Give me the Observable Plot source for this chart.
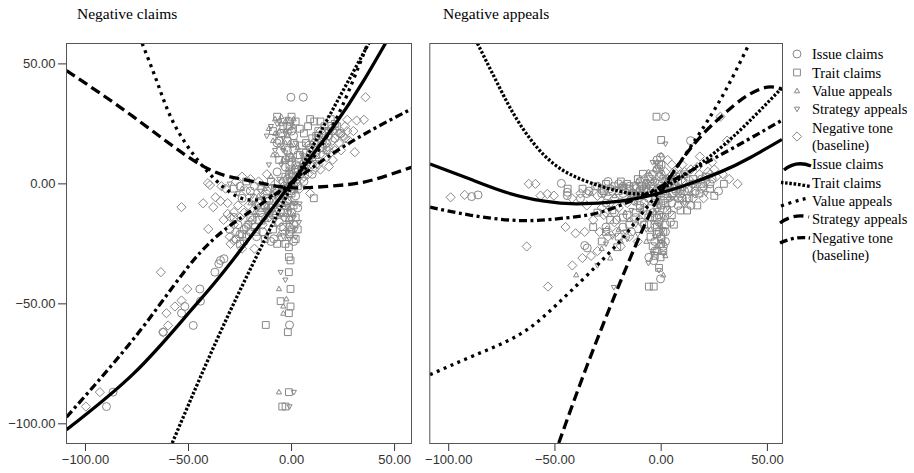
<!DOCTYPE html>
<html><head><meta charset="utf-8">
<script src="https://cdn.jsdelivr.net/npm/d3@7"></script>
<script src="https://cdn.jsdelivr.net/npm/@observablehq/plot@0.6"></script>
<style>
body{margin:0;background:#fff;}
#wrap{position:relative;width:914px;height:473px;overflow:hidden;background:#fff;}
#wrap svg{position:absolute;top:0;}
</style></head><body><div id="wrap"></div>
<script>
// ---------- Data ----------
const panelTitles = ["Negative claims", "Negative appeals"];
const axisTicks = [-100, -50, 0, 50];
const seriesNames = ["Issue claims", "Trait claims", "Value appeals", "Strategy appeals", "Negative tone (baseline)"];

// Left panel: scatter points [x, y]
const leftIssuePts = [[5.7,36.1],[-0.3,36.1],[-34.5,-31.9],[-32.8,-31.2],[-35.3,-33.3],[-37.2,-36.8],[-44.5,-43.8],[-51.8,-51.1],[-44.2,-48.9],[-53.4,-53.9],[-47.7,-59],[-62.3,-61.8],[-86.6,-86.8],[-89.8,-92.8],[-8.6,-22.9],[-4.5,-22.2],[-1,-58.8],
 [-20,-20],[-17,-22],[-22,-18],[-25,-21],[-14,-14],[-10,-10],[-6,-5],[-3,-2],[2,3],[5,6],[8,10],[12,14],[15,18],[20,22],[-2,18],[0,22],[-12,-3],[-18,-1],[-24,-6],[-28,-14],[-26,-17],[-14,-20],[-10,-24],[-6,-16],[3,-10],[6,1],[10,4],[18,20],[24,21],[-3,10],[-7,5],[-16,-8],[-4,-12],[-1,-18],[1,14],[-30,-19],[-23,-24],[9,15],[13,20],
 [-1,26],[1,20],[-2,14],[0,9],[-1,4],[1,-2],[-2,-7],[0,-12],[-1,-20],[1,-24],[-3,-14],[2,-5],[-4,1],[-8,-4],[-11,-7],[-15,-12],[-19,-15],[-23,-19],[-27,-23],[4,4],[7,8],[10,11],[14,15],[17,17],[21,19],[-5,21],[-7,17],[-3,7],[-20,-3],[-25,-1],
 [-2,2],[0,-3],[2,8],[-3,-9],[1,-17],[3,12],[-5,-12],[-9,-13],[11,17],[16,22]];
const leftTraitPts = [[10.8,-6],[-1.3,-26.4],[-1.3,-30.5],[-0.5,-31.9],[-0.5,-43.8],[-5.3,-48.9],[-0.5,-51.1],[-1.3,-53.9],[-12.5,-58.8],[-1.8,-61.8],[-1.3,-86.8],[-4.5,-92.8],[-2.9,-92.8],[-1.3,-36.8],[-7,-25],[-3,-25],
 [6,21],[8,24],[11,26],[14,26],[10,19],[7,17],[4,12],[13,22],[16,24],[19,27],[-1,24],[2,26],[-1,8],[-3,3],[-8,-2],[-12,-6],[-15,-10],[-20,-14],[-18,-18],[-22,-22],[-13,-23],[-9,-19],[-5,-8],[0,-4],[2,-14],[3,-19],[-2,-12],[-25,-25],[5,16],[22,24],[17,14],[-10,1],[-6,10],
 [0,28],[-2,24],[1,17],[-1,11],[2,6],[0,1],[-2,-3],[1,-9],[-1,-15],[0,-19],[2,-23],[-4,-18],[-6,-6],[-9,-9],[-13,-9],[-16,-15],[-21,-17],[-24,-21],[3,5],[6,7],[9,12],[12,12],[15,15],[18,22],[21,25],[-4,24],[-6,18],[-9,22],[-28,-2],[-22,1],
 [4,23],[9,27],[12,20],[7,13],[3,-1],[-1,-21],[-4,-4],[-11,-12],[-17,-20],[-7,28]];
const leftValuePts = [[-6.1,-43.8],[-4,-51],[-2.5,-48],[-6.1,-86.8],[-4,-54],
 [-8,27],[-5,28],[-3,26],[-6,22],[-9,18],[-4,15],[-7,12],[-2,6],[-10,3],[-14,0],[-5,-3],[-3,-8],[-1,-10],[-8,-12],[-12,-15],[2,0],[4,5],[0,12],[-2,20],[1,27],[-16,-5],[-20,-8],[-11,-20],[-6,-21],
 [-1,22],[1,24],[-3,17],[0,16],[-2,11],[1,7],[-1,0],[2,-3],[-3,-5],[0,-8],[-2,-15],[1,-13],[-7,-8],[-10,-13],[-14,-16],[-18,-12],[5,9],[8,13],[-6,16],[-11,23],[-9,12],[-3,22],[-13,-2],[-24,-2],
 [-5,25],[-8,21],[-1,17],[0,5],[-2,-1],[-6,-13],[-9,-17],[3,15],[-4,10],[-12,-9]];
const leftStrategyPts = [[1.1,-86.8],[-1,-92.8],[3.6,-16],[1.9,-22.2],[3.9,-8.3],[-5.3,-36.8],[-3,-40],
 [-10,24],[-12,20],[-7,25],[-4,19],[-8,14],[-5,8],[-11,8],[-3,0],[-1,-6],[1,-8],[-6,-10],[-9,-6],[-13,-11],[-17,-13],[0,2],[3,8],[6,10],[2,17],[-15,-3],[-19,-5],[-2,-20],[0,-16],
 [-2,27],[0,25],[-3,21],[1,10],[-1,5],[0,-1],[-2,-10],[1,-14],[-1,-23],[2,-19],[-5,-13],[-8,-15],[-12,-11],[-16,-10],[-21,-12],[4,2],[7,5],[11,9],[-6,2],[-9,-1],[-4,14],[-7,20],[-26,-4],[-30,0],
 [-6,26],[-3,13],[-1,-12],[2,-8],[-4,-22],[-10,-5],[5,12],[-14,-6],[-18,-8],[-2,3]];
const leftTonePts = [[35.9,36.1],[35.1,26.7],[31.6,26.4],[27,26.7],[30.7,13.2],[18.1,7.2],[-53.4,-9.7],[-42.9,-8.1],[-38,-9.7],[-40.6,0.3],[-39.6,-0.5],[-36.9,-5.6],[-34.5,-7.2],[-40.4,-18.8],[-31,-12.5],[-29.6,-13.9],[-28,-11.8],[-29.6,-25],[-28,-23.6],[-63.4,-36.8],[-50.6,-43.8],[-53.4,-48.6],[-56.6,-51.1],[-60.7,-53.9],[-59.9,-59],[-62.3,-61.8],[-93,-86.8],[-99.8,-92.8],
 [22,22],[25,20],[20,18],[18,15],[15,12],[12,10],[24,14],[28,18],[16,20],[10,8],[8,4],[5,2],[20,10],[14,6],[26,24],[30,22],[-16,1],[-20,2],[-24,3],[-27,1],[-32,-2],[-22,-3],[-18,-6],[-26,-9],[-23,-12],[-33,-15],[-20,-16],[-30,-22],[-27,-20],[-12,4],[-8,0],[4,-2],[9,-4],[-14,-17],[-24,-27],[-18,-27],
 [-4,-1],[-7,-3],[-10,-2],[-13,-5],[-17,-9],[-21,-9],[-25,-14],[-28,-17],[-31,-8],[-34,-1],[2,1],[6,3],[11,6],[13,8],[17,11],[21,14],[23,17],[26,19],[19,23],[14,22],[10,15],[-2,-8],[-5,-18],[-11,-14],
 [8,16],[12,18],[16,16],[19,13],[23,21],[27,22],[6,9],[3,6],[-6,-9],[-15,-2]];

// Left panel: fitted curves [x, y]
const leftIssueCurve = [[-109.2,-102.5],[-76.8,-79.2],[-51,-54.9],[-36.4,-40.3],[-18,-20],[0,0.5],[20.5,24],[35,43],[45.6,58.6]];
const leftTraitCurve = [[-57.9,-108],[-36.4,-65.3],[-18,-32],[0,-1],[20,31],[37.5,58.6]];
const leftValueCurve = [[-72.5,58.6],[-65,41.9],[-57,25],[-44,8.3],[-30,-3.4],[-18,-6.7],[-5,-3.1],[5,4.6],[15,16.7],[25,33.2],[37,58.6]];
const leftStrategyCurve = [[-109.2,47.2],[-76.5,27.8],[-44.2,8],[-23.3,1.8],[-5.3,-1.2],[9.2,-1.5],[27,-0.3],[40,1.8],[58.1,6.9]];
const leftToneCurve = [[-109.2,-97.2],[-72.8,-60.4],[-44.2,-28.5],[-20,-11.5],[0,0.5],[20.6,13],[40,23],[58.1,31.2]];

// Right panel: scatter points [x, y]
const rightIssuePts = [[2,28],[13.8,18],[-0.3,11.1],[-89.2,-5.3],[-86.2,-4.6],[-47,0.2],[-44.2,-3.5],[-44.2,-4.9],[-36,-25.7],[-34.8,-26.7],[-5.8,-30.6],[-3.5,-32],[-0.3,-39.6],[4.4,-16],[5,-1],
 [-30,-1],[-25,1],[-20,0],[-15,-1],[-10,1],[-6,3],[-2,6],[0,8],[3,2],[6,-2],[9,-4],[12,-6],[16,-3],[20,-1],[-8,-8],[-4,-12],[-1,-16],[2,-20],[-3,-24],[-12,-14],[-18,-18],[-22,-12],[-26,-8],[5,-8],[-2,-28],[1,-26],[8,-9],[14,-9],[-34,-3],[-38,-6],[-14,-4],[-5,-1],[-1,3],[10,1],[24,2],
 [-2,10],[0,4],[-1,-2],[1,-7],[-2,-10],[0,-14],[-1,-20],[2,-24],[-3,-28],[-28,-4],[-23,-3],[-18,-4],[-12,-2],[-7,0],[-3,1],[3,0],[7,-3],[11,-3],[15,0],[19,2],[23,0],[-26,-18],[-21,-15],[-16,-13],[-10,-9],[-6,-6],[-14,-20],[-9,-16],[-35,-4],[27,-3],
 [-4,4],[-8,-2],[-13,-1],[-18,-1],[-24,-2],[2,-4],[6,0],[10,-6],[-3,-17],[0,-23]];
const rightTraitPts = [[-2.2,28],[0,18.3],[29.5,0],[-20.7,-26.4],[-0.3,-30.6],[-5.8,-42.8],[-3.5,-42.8],[12.2,-11.1],[9.1,-11.1],[2.8,-11],[-8.6,4.2],[-44,-2],
 [-28,-2],[-22,-1],[-16,0],[-11,2],[-7,-2],[-3,-5],[1,-3],[4,0],[7,3],[11,4],[15,2],[19,0],[23,-2],[-10,-10],[-6,-14],[-2,-18],[0,-22],[-4,-26],[-15,-17],[-20,-22],[-24,-15],[-30,-12],[-26,-20],[2,-8],[5,-13],[17,-9],[-1,-35],[1,-28],[-32,-18],
 [-1,8],[1,2],[-2,-4],[0,-9],[-1,-13],[2,-17],[-2,-21],[0,-25],[-3,-30],[-31,-1],[-26,0],[-20,-3],[-13,-4],[-9,-1],[-4,-2],[2,1],[5,-4],[9,-2],[13,-6],[18,-4],[21,3],[25,-5],[-23,-11],[-18,-14],[-12,-12],[-8,-17],[-5,-22],[-28,-24],[6,-17],[-37,-2],
 [-5,2],[-10,-3],[-15,-2],[-19,1],[-27,-3],[3,-6],[8,1],[13,-2],[-2,-14],[1,-20]];
const rightValuePts = [[-6,5],[-2,9],[0,12],[-4,-3],[-8,-5],[-1,-9],[2,-14],[-5,-19],[-12,-8],[-17,-12],[-22,-5],[3,3],[8,-1],[-13,-3],[-28,-27],[-19,-24],[-40,-38],[1,-38],[-24,-31],
 [-3,6],[1,-1],[-1,-6],[0,-18],[-2,-26],[-10,-4],[-16,-3],[-25,-4],[4,-5],[10,-2],[14,-4],[-9,-11],[-15,-15],[-20,-19],[-7,-24],[2,-30],[-33,-4],[17,1],
 [-6,-1],[-11,1],[-19,-1],[4,-1],[7,-6],[-3,-12],[0,-24],[-5,-8]];
const rightStrategyPts = [[2,16.7],[-16,-22.9],[-22.3,-43.1],[-1,-36],[-3,1],[-9,-3],[-1,-6],[3,-10],[-6,-12],[1,-19],[-3,-22],[-14,-11],[-19,-7],[6,4],[10,-5],[-11,-21],[-26,-25],[-30,-34],[0,5],[-4,9],
 [-1,7],[2,-2],[-2,-8],[0,-13],[-1,-17],[1,-25],[-4,-29],[-8,-2],[-15,-5],[-21,-2],[-27,-5],[5,-6],[11,-8],[15,-1],[-7,-19],[-12,-17],[-17,-20],[-23,-22],[-6,-33],[21,-4],
 [-7,1],[-12,-4],[-17,-1],[3,1],[8,-3],[-2,-11],[1,-29],[-4,-16]];
const rightTonePts = [[27.9,28],[31,18],[36,0],[18.2,11.4],[-99.1,-5.6],[-92.5,-4.6],[-62.3,0],[-59.2,0],[-56.8,-4.9],[-53.6,-4.2],[-50.5,-4.9],[-63.3,-26.1],[-40.3,-20.6],[-37.1,-30.9],[-41.8,-34],[-53.3,-42.8],[-25.4,-19.4],
 [-30,-5],[-35,-9],[-27,-13],[-22,-16],[-18,-2],[-12,-1],[-8,2],[6,5],[10,8],[14,6],[18,4],[22,5],[26,3],[12,0],[16,-4],[20,-6],[8,-6],[-14,-6],[-32,-15],[-36,-20],[-30,-28],[-33,-30],[-10,-15],[3,10],[24,9],[-45,-18],
 [-4,0],[-9,-5],[-16,-8],[-20,-10],[-24,-8],[-28,-10],[-38,-4],[-42,-6],[2,5],[5,8],[9,4],[13,2],[17,7],[21,1],[25,6],[29,4],[32,2],[11,-8],[15,-6],[-19,-26],[-25,-22],[-29,-20],[-15,-22],[-11,-24],[4,-12],
 [-7,-3],[-13,-7],[-22,-6],[-26,-12],[7,2],[11,5],[19,-2],[23,4],[-21,-20],[-8,-10]];

// Right panel: fitted curves
const rightIssueCurve = [[-108.8,8.3],[-90,2],[-72,-3.8],[-55,-7.2],[-40,-8.3],[-20,-7.3],[-3.5,-4.5],[10,-1],[28,5],[42,11],[56.8,18.5]];
const rightTraitCurve = [[-86.5,58.6],[-76,40],[-66.2,24.5],[-50.5,8.3],[-30.1,-0.5],[-11.3,-4.2],[0,-2],[10,3],[27.9,15],[43.6,28],[56.8,40]];
const rightValueCurve = [[-108.8,-79.5],[-88,-71.5],[-66.2,-62.5],[-50,-51],[-34.8,-38],[-20,-24.5],[-11.3,-14.8],[0,-2],[16.9,19.5],[30,38.5],[41.5,58.5]];
const rightStrategyCurve = [[-48.2,-108],[-35,-76],[-20.7,-44],[-10,-21.5],[0,-3.5],[14,15],[27.9,27.8],[40,36.5],[50,40.3],[56.8,39.5]];
const rightToneCurve = [[-108.8,-9.7],[-90,-13],[-66,-15.3],[-45,-14.2],[-28.6,-11.8],[-11.3,-6],[0,-1],[20,8.3],[40,18],[56.8,26.5]];

// ---------- Styles ----------
const GRAY = "#888888";
function sym(fn){ return {draw(ctx, size){ const s = Math.sqrt(size / Math.PI); fn(ctx, s); }}; }
const symbols = [
  sym((c,s)=>{ c.moveTo(s,0); c.arc(0,0,s,0,2*Math.PI); }),
  sym((c,s)=>{ const h=s*0.85; c.moveTo(-h,-h); c.lineTo(h,-h); c.lineTo(h,h); c.lineTo(-h,h); c.closePath(); }),
  sym((c,s)=>{ c.moveTo(0,-s*0.7); c.lineTo(s*0.65,s*0.45); c.lineTo(-s*0.65,s*0.45); c.closePath(); }),
  sym((c,s)=>{ c.moveTo(0,s*0.7); c.lineTo(s*0.65,-s*0.45); c.lineTo(-s*0.65,-s*0.45); c.closePath(); }),
  sym((c,s)=>{ const h=s*1.15; c.moveTo(0,-h); c.lineTo(h,0); c.lineTo(0,h); c.lineTo(-h,0); c.closePath(); })
];
const dashes = ["none", "2.6,1.8", "3,4.5", "10,5", "8,3.5,3,3.5"];
const LW = 3.3;
const fmt = d3.format(".2f");

function panel(pts, curves, opt){
  const marks = [];
  pts.forEach((p,i)=> marks.push(Plot.dot(p, {x:d=>d[0], y:d=>d[1], symbol: symbols[i], r:4, stroke:GRAY, strokeWidth:1, fill:"none", clip:true})));
  curves.forEach((c,i)=> marks.push(Plot.line(c, {x:d=>d[0], y:d=>d[1], curve:"natural", stroke:"#000", strokeWidth:LW, strokeDasharray:dashes[i], strokeLinecap:"butt", strokeLinejoin:"miter", clip:true})));
  marks.push(Plot.frame({stroke:"#555", strokeWidth:1}));
  return Plot.plot({
    width: opt.width, height: 473,
    marginLeft: opt.ml, marginRight: opt.mr, marginTop: 43, marginBottom: 30,
    x: {domain: opt.xd, ticks: axisTicks, tickFormat: fmt, tickSize: 8, tickPadding: 3, label: null},
    y: opt.yaxis ? {domain: [-108.2, 58.5], ticks: axisTicks, tickFormat: fmt, tickSize: 8, tickPadding: 3, label: null}
                 : {domain: [-108.2, 58.5], axis: null},
    style: {fontFamily: "'Liberation Sans', Arial, sans-serif", fontSize: "13px", color: "#333", background: "transparent", overflow: "visible"},
    marks
  });
}

const wrap = document.getElementById("wrap");
const left = panel([leftIssuePts,leftTraitPts,leftValuePts,leftStrategyPts,leftTonePts],
  [leftIssueCurve,leftTraitCurve,leftValueCurve,leftStrategyCurve,leftToneCurve],
  {width:420, ml:66, mr:9, xd:[-109.2,58.2], yaxis:true});
left.style.left = "0px";
wrap.appendChild(left);
const right = panel([rightIssuePts,rightTraitPts,rightValuePts,rightStrategyPts,rightTonePts],
  [rightIssueCurve,rightTraitCurve,rightValueCurve,rightStrategyCurve,rightToneCurve],
  {width:370, ml:9.3, mr:8, xd:[-108.9,57.1], yaxis:false});
right.style.left = "420px";
wrap.appendChild(right);

// ---------- Titles and legend overlay ----------
const ov = d3.select(wrap).append("svg").attr("width",914).attr("height",473).style("left","0px")
  .attr("font-family","'Liberation Serif', 'Times New Roman', serif");
ov.append("text").attr("x",77).attr("y",19).attr("font-size",15.5).text(panelTitles[0]);
ov.append("text").attr("x",443).attr("y",19).attr("font-size",15.5).text(panelTitles[1]);

const ptRows = [54, 72.5, 91, 109, 128];
const lnRows = [164, 182.5, 201, 219, 238];
const labelLines = n => n === "Negative tone (baseline)" ? ["Negative tone", "(baseline)"] : [n];
seriesNames.forEach((name,i)=>{
  const y = ptRows[i];
  const sy = labelLines(name).length > 1 ? y + 8.5 : y;
  const size = Math.PI * 16;
  const path = d3.path(); symbols[i].draw(path, size);
  ov.append("path").attr("d", path.toString()).attr("transform",`translate(797,${sy})`)
    .attr("fill","none").attr("stroke",GRAY).attr("stroke-width",1);
  labelLines(name).forEach((t,k)=> ov.append("text").attr("x",812).attr("y",y + k*17).attr("dy","0.35em").attr("font-size",14.5).text(t));
});
const swatch = [
  y => `M784,${y+6} Q796,${y-4} 811,${y+2}`,
  y => `M781,${y} Q795,${y+1} 811,${y+4}`,
  y => `M781,${y+5} Q795,${y} 808,${y-3}`,
  y => `M780,${y+4} Q794,${y-6} 809,${y-2}`,
  y => `M780,${y+5} Q795,${y-2} 810,${y}`
];
seriesNames.forEach((name,i)=>{
  const y = lnRows[i];
  ov.append("path").attr("d", swatch[i](y)).attr("fill","none").attr("stroke","#000")
    .attr("stroke-width",LW).attr("stroke-dasharray", dashes[i]);
  labelLines(name).forEach((t,k)=> ov.append("text").attr("x",812).attr("y",y + k*17).attr("dy","0.35em").attr("font-size",14.5).text(t));
});
</script></body></html>
